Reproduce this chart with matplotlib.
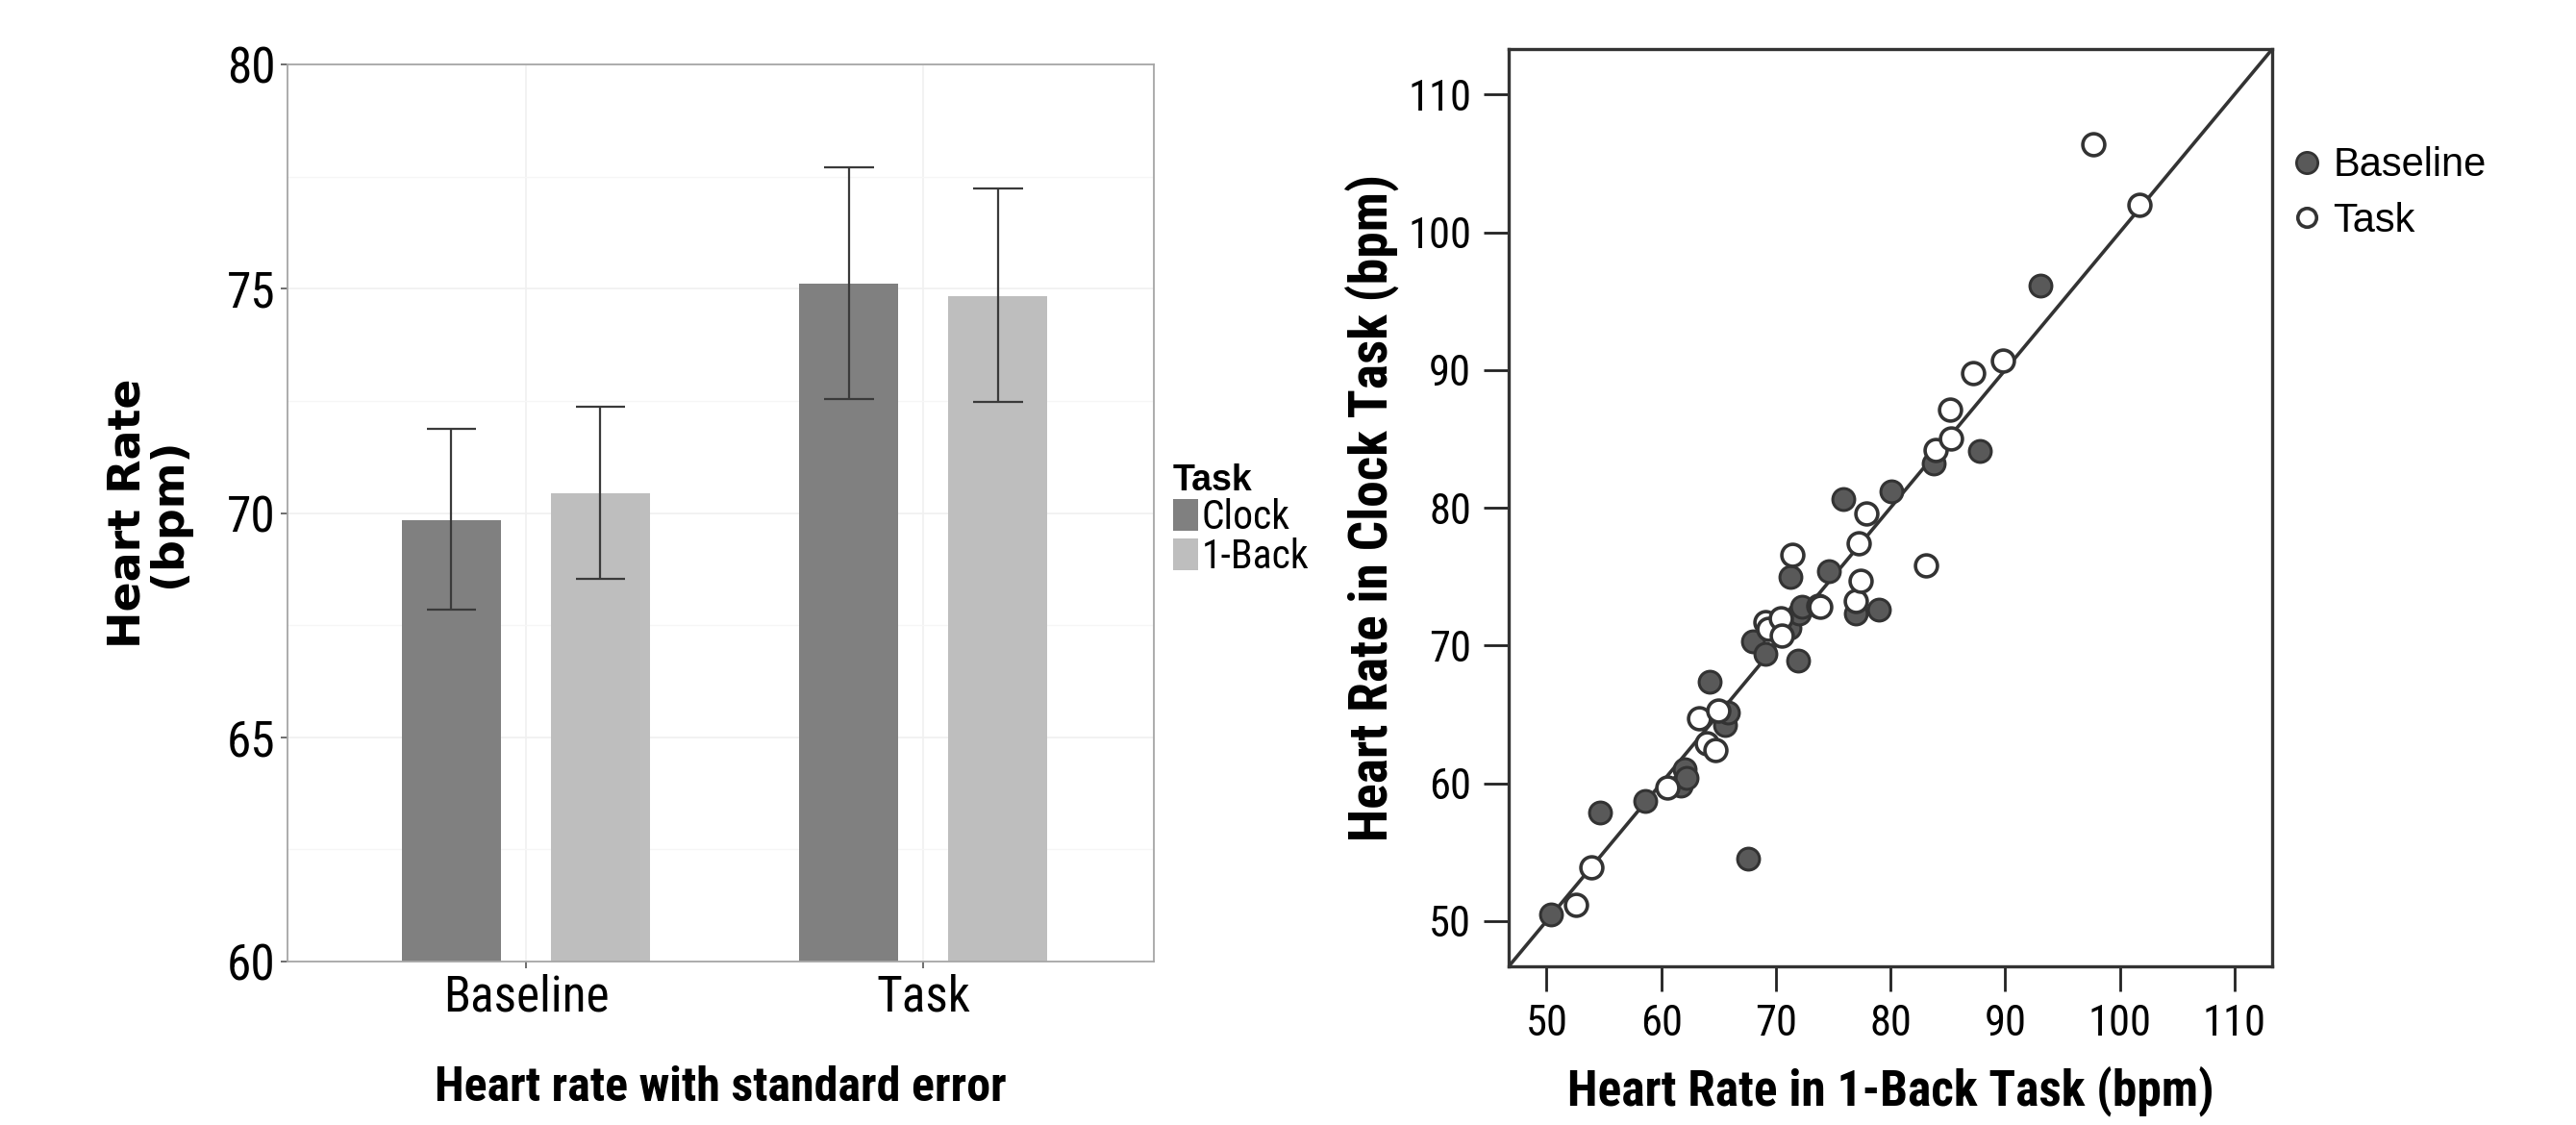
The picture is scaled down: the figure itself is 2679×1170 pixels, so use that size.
import matplotlib
matplotlib.use('Agg')
import matplotlib.pyplot as plt
from matplotlib import font_manager
from matplotlib.patches import Patch
from matplotlib.lines import Line2D
import numpy as np

# ---------------- data ----------------
conditions = ['Baseline', 'Task']
task_names = ['Clock', '1-Back']
clock_mean = [69.85, 75.12]
clock_lo = [67.85, 72.55]
clock_hi = [71.88, 77.70]
nback_mean = [70.45, 74.84]
nback_lo = [68.54, 72.47]
nback_hi = [72.36, 77.24]
bar_yticks = [60, 65, 70, 75, 80]

baseline_nback = [50.4, 54.7, 58.6, 61.7, 62.0, 62.2, 67.6, 64.2, 65.6, 65.8, 68.0, 69.1, 71.9,
                  70.8, 71.2, 72.0, 72.3, 71.3, 74.6, 75.9, 77.0, 79.0, 80.1, 83.8, 87.8, 93.1]
baseline_clock = [50.5, 57.9, 58.7, 59.8, 61.0, 60.4, 54.5, 67.4, 64.2, 65.1, 70.3, 69.4, 68.9,
                  71.7, 71.3, 72.3, 72.8, 75.0, 75.4, 80.6, 72.3, 72.6, 81.2, 83.2, 84.1, 96.1]
task_nback = [52.6, 53.9, 60.5, 63.3, 64.0, 64.7, 65.0, 69.1, 69.3, 70.4, 70.5, 71.4, 73.7,
              73.9, 77.0, 77.4, 77.2, 77.9, 83.1, 83.9, 85.3, 85.2, 87.2, 89.8, 97.7, 101.7]
task_clock = [51.2, 53.9, 59.7, 64.7, 62.9, 62.4, 65.3, 71.7, 71.2, 72.0, 70.7, 76.6, 72.9,
              72.8, 73.2, 74.7, 77.4, 79.6, 75.8, 84.2, 85.0, 87.1, 89.8, 90.7, 106.4, 102.0]
scatter_ticks = [50, 60, 70, 80, 90, 100, 110]

# ---------------- fonts ----------------
avail = {f.name for f in font_manager.fontManager.ttflist}
NARROW = 'Liberation Sans'
for cand in ['Liberation Sans Narrow', 'Arial Narrow', 'Roboto Condensed', 'Archivo Narrow',
             'PT Sans Narrow', 'Pragati Narrow', 'Fira Sans Condensed']:
    if cand in avail:
        NARROW = cand
        break
ARIAL = 'Liberation Sans'

fig = plt.figure(figsize=(26.79, 11.70), dpi=100)

# ---------------- left: bar chart ----------------
ax1 = fig.add_axes([0.1116, 0.1453, 0.3363, 0.7974])
x = np.arange(1, len(conditions) + 1)
bw = 0.25
off = 0.1875
ax1.bar(x - off, clock_mean, width=bw, color='#808080', zorder=2)
ax1.bar(x + off, nback_mean, width=bw, color='#BEBEBE', zorder=2)
for xs, lo, hi in [(x - off, clock_lo, clock_hi), (x + off, nback_lo, nback_hi)]:
    ax1.vlines(xs, lo, hi, color='#3a3a3a', lw=1.6, zorder=3)
    ax1.hlines(lo, xs - bw / 4, xs + bw / 4, color='#3a3a3a', lw=1.6, zorder=3)
    ax1.hlines(hi, xs - bw / 4, xs + bw / 4, color='#3a3a3a', lw=1.6, zorder=3)
ax1.set_ylim(60, 80)
ax1.set_xlim(0.4, 2.58)
ax1.set_yticks(bar_yticks)
ax1.set_yticks([62.5, 67.5, 72.5, 77.5], minor=True)
ax1.set_xticks(x)
ax1.set_xticklabels(conditions)
ax1.grid(True, which='major', color='#F0F0F0', lw=1.2, zorder=0)
ax1.grid(True, which='minor', axis='y', color='#F6F6F6', lw=1.0, zorder=0)
ax1.set_axisbelow(True)
for s in ax1.spines.values():
    s.set_color('#A6A6A6')
    s.set_linewidth(1.3)
ax1.tick_params(axis='both', which='major', length=5, width=1.2, color='#555555', pad=4)
ax1.tick_params(axis='y', which='minor', length=0)
for lab in ax1.get_yticklabels() + ax1.get_xticklabels():
    lab.set_fontfamily(NARROW)
    lab.set_fontsize(37)
    lab.set_color('black')
ax1.set_xlabel('Heart rate with standard error', fontfamily=NARROW, fontweight='bold',
               fontsize=36)
ax1.xaxis.set_label_coords(0.5, -0.116)
ax1.set_ylabel('Heart Rate\n(bpm)', fontfamily='DejaVu Sans', fontweight='bold',
               fontsize=33, linespacing=0.92)
ax1.yaxis.set_label_coords(-0.112, 0.5)

handles = [Patch(facecolor='#808080', edgecolor='none'), Patch(facecolor='#BEBEBE', edgecolor='none')]
leg1 = ax1.legend(handles, task_names, title='Task', loc='upper left',
                  bbox_to_anchor=(1.022, 0.555), frameon=False,
                  prop={'family': NARROW, 'size': 30},
                  handlelength=0.62, handleheight=0.85, labelspacing=0.0,
                  handletextpad=0.1, borderpad=0.0, borderaxespad=0.0)
leg1.get_title().set_fontfamily(ARIAL)
leg1.get_title().set_fontweight('bold')
leg1.get_title().set_fontsize(27)
leg1._legend_box.align = 'left'

# ---------------- right: scatter ----------------
ax2 = fig.add_axes([0.5857, 0.1410, 0.2964, 0.8154])
lim = (46.7, 113.3)
ax2.set_xlim(lim)
ax2.set_ylim(lim)
ax2.axline((50, 50), slope=1, color='#333333', lw=2.6, zorder=1)
ax2.scatter(baseline_nback, baseline_clock, s=270, facecolor='#595959', edgecolor='#333333',
            linewidths=2.2, zorder=2)
ax2.scatter(task_nback, task_clock, s=270, facecolor='white', edgecolor='#333333',
            linewidths=2.6, zorder=3)
ax2.set_xticks(scatter_ticks)
ax2.set_yticks(scatter_ticks)
for s in ax2.spines.values():
    s.set_color('#333333')
    s.set_linewidth(2.4)
ax2.tick_params(axis='both', length=19, width=2.0, color='#222222', pad=9)
for lab in ax2.get_yticklabels() + ax2.get_xticklabels():
    lab.set_fontfamily(NARROW)
    lab.set_fontsize(32)
ax2.set_xlabel('Heart Rate in 1-Back Task (bpm)', fontfamily=NARROW, fontweight='bold',
               fontsize=37)
ax2.xaxis.set_label_coords(0.5, -0.108)
ax2.set_ylabel('Heart Rate in Clock Task (bpm)', fontfamily=NARROW, fontweight='bold',
               fontsize=40)
ax2.yaxis.set_label_coords(-0.143, 0.5)

h2 = [Line2D([], [], ls='none', marker='o', markersize=16, markerfacecolor='#595959',
             markeredgecolor='#333333', markeredgewidth=2),
      Line2D([], [], ls='none', marker='o', markersize=14, markerfacecolor='white',
             markeredgecolor='#333333', markeredgewidth=2.6)]
ax2.legend(h2, conditions, loc='upper left', bbox_to_anchor=(1.03, 0.894), frameon=False,
           prop={'family': ARIAL, 'size': 30}, handlelength=0.6, handletextpad=0.35,
           labelspacing=0.42, borderpad=0.0, borderaxespad=0.0)

fig.savefig('out.png', dpi=100, facecolor='white')
